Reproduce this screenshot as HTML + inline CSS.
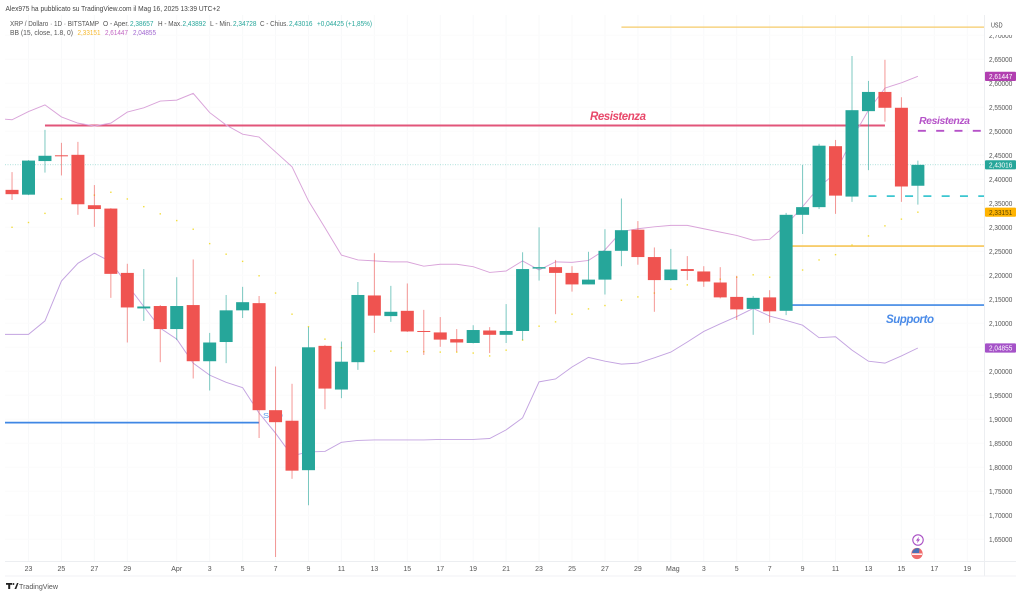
<!DOCTYPE html>
<html lang="it">
<head>
<meta charset="utf-8">
<title>XRP / Dollaro - TradingView</title>
<style>
html,body{margin:0;padding:0;background:#fff;}
svg{display:block;font-family:"Liberation Sans",sans-serif;}
</style>
</head>
<body>
<svg id="chart" width="1024" height="596" viewBox="0 0 1024 596" xmlns="http://www.w3.org/2000/svg">
  <defs><clipPath id="plot-clip"><rect x="5" y="15" width="979" height="546"/></clipPath></defs>
  <rect width="1024" height="596" fill="#ffffff"/>
  <text x="5.5" y="11" font-size="7.5" fill="#444" textLength="214.5" lengthAdjust="spacingAndGlyphs">Alex975 ha pubblicato su TradingView.com il Mag 16, 2025 13:39 UTC+2</text>
  <g id="grid"></g>
  <g id="levels" clip-path="url(#plot-clip)"></g>
  <g id="bands" clip-path="url(#plot-clip)"></g>
  <text x="263" y="418" font-size="7.5" fill="#5b9bea" textLength="20" lengthAdjust="spacingAndGlyphs">SCO</text>
  <g id="candles" clip-path="url(#plot-clip)"></g>
  <text x="590" y="120" font-size="11.5" font-weight="bold" font-style="italic" fill="#e8486a" textLength="56" lengthAdjust="spacing">Resistenza</text>
  <text x="919" y="124" font-size="10.5" font-weight="bold" font-style="italic" fill="#b552c8" textLength="51" lengthAdjust="spacing">Resistenza</text>
  <text x="886" y="323" font-size="11.5" font-weight="bold" font-style="italic" fill="#4a8be8" textLength="48" lengthAdjust="spacing">Supporto</text>

  <g font-size="7">
    <text x="10" y="26" fill="#555" textLength="89" lengthAdjust="spacingAndGlyphs">XRP / Dollaro · 1D · BITSTAMP</text>
    <text x="103" y="26" fill="#555" textLength="26" lengthAdjust="spacingAndGlyphs">O - Aper.</text>
    <text x="130" y="26" fill="#26a69a" textLength="23.5" lengthAdjust="spacingAndGlyphs">2,38657</text>
    <text x="158" y="26" fill="#555" textLength="24" lengthAdjust="spacingAndGlyphs">H - Max.</text>
    <text x="182.5" y="26" fill="#26a69a" textLength="23.5" lengthAdjust="spacingAndGlyphs">2,43892</text>
    <text x="210" y="26" fill="#555" textLength="22" lengthAdjust="spacingAndGlyphs">L - Min.</text>
    <text x="233" y="26" fill="#26a69a" textLength="23.5" lengthAdjust="spacingAndGlyphs">2,34728</text>
    <text x="260" y="26" fill="#555" textLength="28" lengthAdjust="spacingAndGlyphs">C - Chius.</text>
    <text x="289" y="26" fill="#26a69a" textLength="23.5" lengthAdjust="spacingAndGlyphs">2,43016</text>
    <text x="317" y="26" fill="#26a69a" textLength="55" lengthAdjust="spacingAndGlyphs">+0,04425 (+1,85%)</text>
    <text x="10" y="35" fill="#555" textLength="63" lengthAdjust="spacingAndGlyphs">BB (15, close, 1.8, 0)</text>
    <text x="77.5" y="35" fill="#f5b82e" textLength="23" lengthAdjust="spacingAndGlyphs">2,33151</text>
    <text x="105" y="35" fill="#c265c2" textLength="23" lengthAdjust="spacingAndGlyphs">2,61447</text>
    <text x="133" y="35" fill="#a066d0" textLength="23" lengthAdjust="spacingAndGlyphs">2,04855</text>
  </g>

  <g id="y-axis"></g>
  <g id="x-axis"></g>
  <g id="badges"></g>

  <g>
    <circle cx="918" cy="540" r="5.2" fill="#fff" stroke="#a94fc4" stroke-width="1.1"/>
    <polygon points="919,536.8 915.9,540.6 917.7,540.6 917,543.2 920.1,539.4 918.3,539.4" fill="#a94fc4"/>
    <circle cx="917" cy="553.5" r="5.6" fill="#ef6a6a"/>
    <rect x="912" y="553.5" width="10" height="1.4" fill="#fff"/>
    <path d="M912 553 A5.6 5.6 0 0 1 919.5 548.5 L919 553 Z" fill="#4a6fb5"/>
  </g>

  <g>
    <rect x="6" y="583" width="6" height="1.8" fill="#222"/>
    <rect x="8.2" y="583" width="2" height="6" fill="#222"/>
    <circle cx="13.4" cy="584" r="1" fill="#222"/>
    <polygon points="14.5,589 17,583 18.5,583 16.3,589" fill="#222"/>
    <text x="19" y="589" font-size="7.5" fill="#555" textLength="39" lengthAdjust="spacingAndGlyphs">TradingView</text>
  </g>
</svg>

<script>
// Series values in USD, one entry per day. Candles start on 22 March.
const opens = [2.378,2.368,2.438,2.450,2.451,2.346,2.339,2.205,2.131,2.136,2.088,2.138,2.021,2.061,2.127,2.142,1.919,1.897,1.794,2.053,1.962,2.019,2.158,2.115,2.126,2.084,2.081,2.067,2.059,2.085,2.076,2.084,2.214,2.217,2.205,2.181,2.191,2.251,2.295,2.238,2.190,2.213,2.208,2.185,2.155,2.130,2.154,2.126,2.326,2.342,2.469,2.364,2.542,2.582,2.549,2.38657];
const highs = [2.415,2.440,2.503,2.476,2.478,2.388,2.340,2.224,2.213,2.138,2.196,2.233,2.080,2.159,2.176,2.157,2.010,1.974,2.092,2.055,2.062,2.186,2.246,2.178,2.183,2.128,2.113,2.088,2.096,2.092,2.140,2.248,2.300,2.232,2.219,2.249,2.296,2.360,2.313,2.258,2.255,2.240,2.219,2.217,2.199,2.157,2.169,2.330,2.430,2.474,2.482,2.657,2.605,2.649,2.571,2.43892];
const lows = [2.357,2.367,2.414,2.408,2.326,2.301,2.153,2.060,2.105,2.019,2.065,1.985,1.960,2.017,2.111,1.861,1.613,1.776,1.721,1.921,1.944,2.003,2.080,2.103,2.082,2.034,2.051,2.041,2.058,2.038,2.059,2.065,2.189,2.119,2.166,2.181,2.160,2.219,2.222,2.124,2.189,2.190,2.176,2.152,2.107,2.076,2.101,2.117,2.286,2.338,2.328,2.353,2.419,2.520,2.353,2.34728];
const closes = [2.369,2.439,2.449,2.449,2.348,2.338,2.203,2.133,2.135,2.088,2.136,2.021,2.060,2.127,2.144,1.919,1.894,1.793,2.050,1.964,2.020,2.159,2.116,2.124,2.083,2.083,2.066,2.060,2.086,2.076,2.084,2.213,2.217,2.205,2.181,2.191,2.251,2.294,2.238,2.190,2.212,2.209,2.187,2.154,2.129,2.153,2.125,2.326,2.342,2.470,2.366,2.544,2.582,2.549,2.385,2.43016];

// Bollinger series start one day earlier (21 March), just off the plot's left edge.
const bbUpper = [2.527,2.524,2.541,2.555,2.530,2.517,2.511,2.517,2.540,2.549,2.563,2.565,2.579,2.539,2.513,2.494,2.488,2.457,2.426,2.355,2.299,2.242,2.232,2.230,2.228,2.228,2.219,2.223,2.223,2.218,2.206,2.209,2.230,2.211,2.228,2.227,2.231,2.253,2.291,2.297,2.301,2.304,2.304,2.297,2.290,2.283,2.273,2.275,2.305,2.343,2.384,2.413,2.484,2.544,2.590,2.601,2.61447];
const bbLower = [2.077,2.077,2.077,2.105,2.188,2.225,2.246,2.228,2.180,2.135,2.090,2.067,2.017,1.992,1.977,1.966,1.913,1.871,1.824,1.832,1.833,1.852,1.856,1.857,1.857,1.857,1.857,1.858,1.858,1.858,1.860,1.878,1.903,1.978,1.984,2.009,2.029,2.021,2.015,2.017,2.028,2.040,2.061,2.083,2.099,2.114,2.131,2.115,2.106,2.096,2.070,2.072,2.044,2.021,2.017,2.032,2.04855];
const bbBasis = [2.290,2.300,2.310,2.329,2.359,2.363,2.367,2.373,2.359,2.343,2.328,2.314,2.296,2.266,2.244,2.229,2.199,2.163,2.119,2.093,2.067,2.049,2.044,2.042,2.042,2.041,2.041,2.040,2.040,2.038,2.032,2.044,2.065,2.094,2.103,2.119,2.130,2.137,2.148,2.155,2.163,2.171,2.180,2.188,2.192,2.196,2.201,2.196,2.207,2.211,2.232,2.243,2.263,2.282,2.303,2.317,2.33151];

// Axis labels
const priceTicks = [2.70,2.65,2.60,2.55,2.50,2.45,2.40,2.35,2.30,2.25,2.20,2.15,2.10,2.05,2.00,1.95,1.90,1.85,1.80,1.75,1.70,1.65];
const timeTickLabels = ["23","25","27","29","Apr","3","5","7","9","11","13","15","17","19","21","23","25","27","29","Mag","3","5","7","9","11","13","15","17","19"];
const timeTickDays = [0,2,4,6,9,11,13,15,17,19,21,23,25,27,29,31,33,35,37,39,41,43,45,47,49,51,53,55,57];

// Horizontal drawing levels (USD)
const resistanceLevel = 2.512;
const topLevel = 2.717;
const purpleResistanceLevel = 2.501;
const cyanLevel = 2.365;
const orangeLevel = 2.261;
const supportLevel = 2.138;
const leftSupportLevel = 1.893;

const NS = "http://www.w3.org/2000/svg";
const PLOT_LEFT = 5, PLOT_RIGHT = 984, PLOT_TOP = 15, PLOT_BOTTOM = 561;
const xScale = d => 28.5 + 16.47 * d;
const yScale = p => 371.3 - (p - 2) * 480;
const fmt = p => p.toFixed(5).replace(".", ",");
const UP = "#26a69a", DOWN = "#ef5350";
const bodyWidth = 13;

function mk(tag, attrs, parent, text) {
  const el = document.createElementNS(NS, tag);
  for (const k in attrs) el.setAttribute(k, attrs[k]);
  if (text !== undefined) el.textContent = text;
  parent.appendChild(el);
  return el;
}

// Grid
const gridG = document.getElementById("grid");
timeTickDays.forEach(d => {
  const el = mk("line", {x1: xScale(d), x2: xScale(d), y1: PLOT_TOP, y2: PLOT_BOTTOM, stroke: "#f8f9fa", "stroke-width": 1}, gridG);
  
  
});
priceTicks.forEach(p => {
  const el = mk("line", {x1: PLOT_LEFT, x2: PLOT_RIGHT, y1: yScale(p), y2: yScale(p), stroke: "#fbfbfc", "stroke-width": 1}, gridG);
  
  
});

// Levels
const levelsG = document.getElementById("levels");
function drawLevel(price, fromX, toX, color, width, dash, name) {
  const el = mk("line", {x1: fromX, x2: toX, y1: yScale(price), y2: yScale(price), stroke: color, "stroke-width": width}, levelsG);
  if (dash) el.setAttribute("stroke-dasharray", dash);
  
  
  return el;
}
drawLevel(closes[closes.length - 1], PLOT_LEFT, PLOT_RIGHT, "#7fcfc7", 0.7, "1 1.5", "last-price-line");
drawLevel(topLevel, xScale(36), PLOT_RIGHT, "#f6cb6a", 1.3, "", "top-yellow-level");
drawLevel(resistanceLevel, xScale(1), xScale(52), "#e2557a", 2, "", "resistance-line");
drawLevel(purpleResistanceLevel, xScale(54), PLOT_RIGHT, "#b552c8", 1.8, "8 10.3", "purple-resistance-line");
drawLevel(cyanLevel, xScale(51), PLOT_RIGHT, "#3cc6d0", 1.8, "8 10.3", "cyan-dashed-level");
drawLevel(orangeLevel, xScale(46), PLOT_RIGHT, "#f6c557", 1.6, "", "orange-level");
drawLevel(supportLevel, xScale(46), PLOT_RIGHT, "#3f87e4", 1.6, "", "support-line");
drawLevel(leftSupportLevel, PLOT_LEFT, xScale(14), "#3f87e4", 1.8, "", "left-support-line");

// Bollinger bands (index 0 is day -2)
const bandsG = document.getElementById("bands");
const bandPts = arr => arr.map((v, i) => xScale(i - 2) + "," + yScale(v)).join(" ");
const upperLine = mk("polyline", {points: bandPts(bbUpper), fill: "none", stroke: "#d9a3d9", "stroke-width": 0.95}, bandsG);


const lowerLine = mk("polyline", {points: bandPts(bbLower), fill: "none", stroke: "#c3a3e0", "stroke-width": 0.95}, bandsG);


bbBasis.forEach((v, i) => {
  const dot = mk("rect", {x: xScale(i - 2) - 0.7, y: yScale(v) - 0.7, width: 1.4, height: 1.4, fill: "#f2dc3a"}, bandsG);
  
  
});

// Candles (index 0 is day -1)
const candlesG = document.getElementById("candles");
opens.forEach((o, i) => {
  const c = closes[i], x = xScale(i - 1), up = c >= o, col = up ? UP : DOWN;
  const wick = mk("line", {x1: x, x2: x, y1: yScale(highs[i]), y2: yScale(lows[i]), stroke: col, "stroke-width": 1, opacity: 0.6}, candlesG);
  
  
  const top = yScale(Math.max(o, c)), h = Math.max(Math.abs(yScale(o) - yScale(c)), 1);
  const body = mk("rect", {x: x - bodyWidth / 2, y: top, width: bodyWidth, height: h, fill: col}, candlesG);
  
  
});

// Price axis
const yG = document.getElementById("y-axis");
const axisLine = mk("line", {x1: PLOT_RIGHT + 0.5, x2: PLOT_RIGHT + 0.5, y1: PLOT_TOP, y2: 576, stroke: "#eceef1", "stroke-width": 1}, yG);


priceTicks.forEach(p => {
  const t = mk("text", {x: 989, y: yScale(p) + 2.6, "font-size": 7, fill: "#555", textLength: 23.3, lengthAdjust: "spacingAndGlyphs"}, yG, fmt(p));
  
  
});
const usdBg = mk("rect", {x: 985, y: PLOT_TOP, width: 31, height: 20, fill: "#fff"}, yG);


const usd = mk("text", {x: 991, y: 27.5, "font-size": 7, fill: "#444", textLength: 11.5, lengthAdjust: "spacingAndGlyphs"}, yG, "USD");



// Time axis
const xG = document.getElementById("x-axis");
const xLine1 = mk("line", {x1: PLOT_LEFT, x2: 1016, y1: 561.5, y2: 561.5, stroke: "#eceef1", "stroke-width": 1}, xG);


const xLine2 = mk("line", {x1: PLOT_LEFT, x2: 1016, y1: 576, y2: 576, stroke: "#f0f1f4", "stroke-width": 1}, xG);


timeTickLabels.forEach((lab, i) => {
  const bump = lab === "Mag" ? 2 : 0;
  const t = mk("text", {x: xScale(timeTickDays[i]) + bump, y: 571, "font-size": 7, fill: "#555", "text-anchor": "middle"}, xG, lab);
  
  
});

// Last-value badges
const badgesG = document.getElementById("badges");
function badge(value, color, textColor, name) {
  const y = yScale(value);
  const r = mk("rect", {x: 985, y: y - 4.6, width: 31, height: 9.2, rx: 1, fill: color}, badgesG);
  
  
  const t = mk("text", {x: 989, y: y + 2.6, "font-size": 7, fill: textColor, textLength: 23.3, lengthAdjust: "spacingAndGlyphs"}, badgesG, fmt(value));
  
  
}
badge(bbUpper[bbUpper.length - 1], "#b13fb0", "#fff", "bb-upper");
badge(closes[closes.length - 1], "#26a69a", "#fff", "last-price");
badge(bbBasis[bbBasis.length - 1], "#ffb300", "#5a4500", "bb-basis");
badge(bbLower[bbLower.length - 1], "#a552c8", "#fff", "bb-lower");
</script>
</body>
</html>
